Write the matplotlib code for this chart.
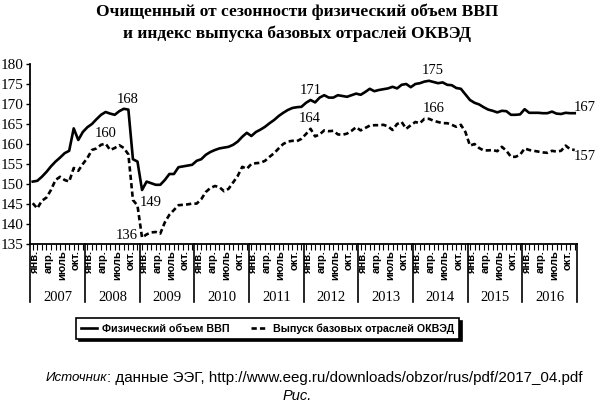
import matplotlib
matplotlib.use('Agg')
import matplotlib.pyplot as plt
from matplotlib.transforms import blended_transform_factory
import numpy as np
import logging
logging.getLogger('matplotlib.font_manager').setLevel(logging.ERROR)

# ---------------- data ----------------
years = [2007, 2008, 2009, 2010, 2011, 2012, 2013, 2014, 2015, 2016]
month_labels = ['янв.', 'апр.', 'июль', 'окт.']
month_label_idx = [0, 3, 6, 9]

gdp_2007 = [150.6, 150.8, 151.8, 153.0, 154.4, 155.6, 156.6, 157.7, 158.3, 163.9, 161.0, 163.0]
gdp_2008 = [164.2, 165.0, 166.2, 167.3, 168.0, 167.6, 167.3, 168.2, 168.8, 168.6, 156.2, 155.6]
gdp_2009 = [148.5, 150.6, 150.2, 149.8, 149.8, 151.0, 152.5, 152.5, 154.2, 154.4, 154.6, 154.8]
gdp_2010 = [155.8, 156.2, 157.3, 158.0, 158.5, 158.9, 159.1, 159.3, 159.8, 160.6, 161.8, 162.8]
gdp_2011 = [162.0, 163.0, 163.6, 164.3, 165.2, 166.0, 167.0, 167.8, 168.5, 169.0, 169.2, 169.3]
gdp_2012 = [170.3, 171.0, 170.4, 171.6, 172.2, 171.6, 171.6, 172.2, 172.0, 171.8, 172.2, 172.6]
gdp_2013 = [172.3, 173.0, 173.8, 173.2, 173.5, 173.7, 173.9, 174.3, 173.9, 174.8, 175.0, 174.2]
gdp_2014 = [175.0, 175.2, 175.6, 175.8, 175.5, 175.2, 175.4, 174.8, 174.7, 174.0, 173.8, 172.4]
gdp_2015 = [171.0, 170.3, 169.9, 169.2, 168.6, 168.3, 167.9, 168.3, 168.2, 167.3, 167.3, 167.4]
gdp_2016 = [168.7, 167.8, 167.8, 167.8, 167.7, 167.7, 168.1, 167.6, 167.5, 167.8, 167.7, 167.7]

okv_2007 = [145.2, 143.9, 145.8, 146.6, 148.5, 151.0, 151.8, 151.0, 150.6, 154.0, 153.3, 155.0]
okv_2008 = [156.5, 158.5, 158.9, 159.8, 160.1, 158.5, 159.0, 159.7, 159.0, 157.4, 146.0, 144.6]
okv_2009 = [136.6, 137.4, 137.9, 138.0, 137.6, 140.4, 142.3, 143.5, 144.7, 144.8, 144.9, 145.1]
okv_2010 = [145.1, 146.2, 148.0, 149.0, 149.5, 149.2, 148.2, 148.8, 150.4, 152.0, 154.3, 153.8]
okv_2011 = [155.0, 155.2, 155.3, 155.8, 156.8, 157.7, 158.9, 160.0, 160.6, 160.8, 160.7, 161.3]
okv_2012 = [162.5, 163.8, 161.9, 162.4, 163.4, 163.2, 163.3, 162.4, 162.3, 162.6, 163.3, 164.2]
okv_2013 = [163.4, 164.0, 164.6, 164.7, 164.7, 164.8, 164.4, 163.5, 165.0, 165.5, 163.8, 164.7]
okv_2014 = [165.5, 165.2, 166.3, 166.3, 165.8, 165.5, 165.2, 165.2, 164.8, 164.3, 164.8, 163.0]
okv_2015 = [159.6, 160.0, 159.0, 158.4, 158.4, 158.5, 158.2, 159.3, 158.3, 156.8, 156.8, 157.3]
okv_2016 = [158.9, 158.5, 158.3, 158.1, 157.9, 157.8, 158.3, 158.1, 158.3, 159.6, 158.7, 158.5]

gdp = (gdp_2007 + gdp_2008 + gdp_2009 + gdp_2010 + gdp_2011 +
       gdp_2012 + gdp_2013 + gdp_2014 + gdp_2015 + gdp_2016)
okved = (okv_2007 + okv_2008 + okv_2009 + okv_2010 + okv_2011 +
         okv_2012 + okv_2013 + okv_2014 + okv_2015 + okv_2016)

series_names = ['Физический объем ВВП', 'Выпуск базовых отраслей ОКВЭД']

# value annotations: (month index, text, offset px)
gdp_notes = [(20, '168', (4, 9)), (24, '149', (9, -12)), (61, '171', (0, 9)),
             (87, '175', (4, 10)), (119, '167', (10, 6))]
okv_notes = [(16, '160', (0, 10)), (24, '136', (-15, 2)), (61, '164', (-1, 10)),
             (87, '166', (5, 10)), (119, '157', (10, -7))]

title = 'Очищенный от сезонности физический объем ВВП\nи индекс выпуска базовых отраслей ОКВЭД'
source_italic = 'Источник'
source_rest = ': данные ЭЭГ, http://www.eeg.ru/downloads/obzor/rus/pdf/2017_04.pdf'
caption = 'Рис.'

# ---------------- fonts ----------------
SERIF = ['Liberation Serif', 'DejaVu Serif']
NARROW = ['Liberation Sans Narrow', 'Liberation Sans', 'DejaVu Sans']
SANS = ['Liberation Sans', 'DejaVu Sans']

# ---------------- figure ----------------
fig = plt.figure(figsize=(5.95, 4.04), dpi=100)
ax = fig.add_axes([30 / 595, 1 - 244 / 404, 547 / 595, 180 / 404])

x = np.arange(len(gdp))
l1, = ax.plot(x, gdp, color='black', lw=1.9, solid_joinstyle='round')
l2, = ax.plot(x, okved, color='black', lw=1.9, linestyle=(0, (2.0, 1.2)))

ax.set_xlim(-0.6, 119.5)
ax.set_ylim(135, 180)
ax.set_yticks(np.arange(135, 181, 5))
for lab in ax.get_yticklabels():
    lab.set_family(SERIF)
    lab.set_fontsize(11)
ax.tick_params(axis='y', direction='out', length=3, width=1, pad=2)

ax.set_xticks([])
ax.set_xticks(x, minor=True)
ax.tick_params(axis='x', which='minor', direction='out', length=4, width=0.8)

for s in ['top', 'right']:
    ax.spines[s].set_visible(False)
for s in ['left', 'bottom']:
    ax.spines[s].set_linewidth(1.3)

trans = blended_transform_factory(ax.transData, ax.transAxes)
n_years = len(years)
for k in range(n_years + 1):
    b = 12 * k - 0.5
    ax.plot([b, b], [0, -0.322], transform=trans, clip_on=False,
            color='black', lw=1.2)
for k, yr in enumerate(years):
    ax.text(12 * k + 5.5, -0.296, str(yr), transform=trans, ha='center',
            va='center', family=SERIF, fontsize=10.5)
    for mi, ml in zip(month_label_idx, month_labels):
        ax.text(12 * k + mi + 0.45, -0.033, ml, transform=trans, rotation=90,
                ha='center', va='top', family=NARROW, fontweight='bold',
                fontsize=8)

for idx, txt, off in gdp_notes:
    ax.annotate(txt, (x[idx], gdp[idx]), xytext=off, textcoords='offset pixels',
                ha='center', va='center', family=SERIF, fontsize=10.5,
                annotation_clip=False)
for idx, txt, off in okv_notes:
    ax.annotate(txt, (x[idx], okved[idx]), xytext=off, textcoords='offset pixels',
                ha='center', va='center', family=SERIF, fontsize=10.5,
                annotation_clip=False)

leg = ax.legend([l1, l2], series_names, loc='center',
                bbox_to_anchor=(267.5 / 595, 1 - 328.5 / 404),
                bbox_transform=fig.transFigure, ncol=2, frameon=True,
                fancybox=False, shadow={'color': 'black', 'alpha': 1},
                handlelength=1.5, columnspacing=2.0, handletextpad=0.5,
                borderpad=0.45,
                prop={'family': NARROW, 'weight': 'bold', 'size': 7.7})
leg.get_frame().set_edgecolor('black')
leg.get_frame().set_linewidth(1.2)

fig.text(0.499, 1 - 22.5 / 404, title, ha='center', va='center',
         family=SERIF, fontweight='bold', fontsize=12.5, linespacing=1.45)

fig.text(107 / 595, 1 - 378 / 404, source_italic, ha='right', va='center',
         family=SANS, style='italic', fontsize=9.5)
fig.text(107 / 595, 1 - 378 / 404, source_rest, ha='left', va='center',
         family=SANS, fontsize=10.9)
fig.text(0.5, 1 - 396 / 404, caption, ha='center', va='center',
         family=SANS, style='italic', fontsize=10.5)

fig.savefig('out.png', dpi=100)
